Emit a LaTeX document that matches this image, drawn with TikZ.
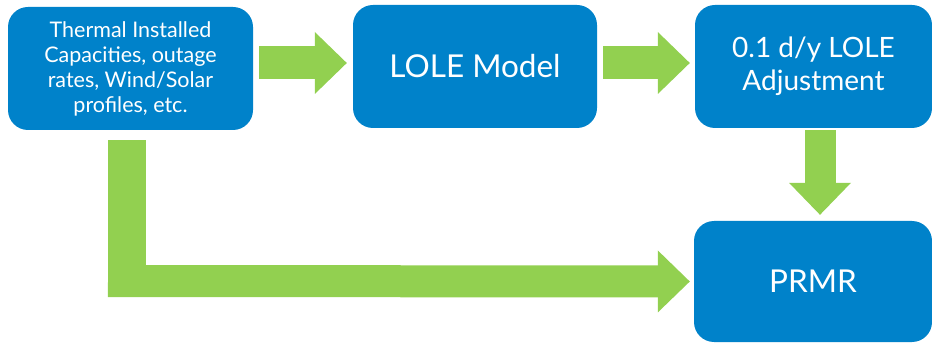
\documentclass[tikz,border=0pt]{standalone}
\usepackage{fontspec}
\setmainfont{Lato}
\usetikzlibrary{arrows.meta}
\definecolor{boxblue}{RGB}{0,130,202}
\definecolor{flowgreen}{RGB}{146,208,80}
\begin{document}
\begin{tikzpicture}[x=1pt,y=1pt,
        box/.style={fill=boxblue,text=white,rounded corners=20pt,align=center,inner sep=0pt,minimum height=123pt},
        flow/.style={draw=flowgreen,line width=32pt,-{Triangle[width=62pt,length=32pt,line width=0pt]}}]
        \useasboundingbox (0,0) rectangle (932,343);
        \node[box,minimum width=245pt,font=\fontsize{21.5}{25}\selectfont] (inputs) at (130.5,274.5) {Thermal Installed\\Capacities, outage\\rates, Wind/Solar\\profiles, etc.};
        \node[box,minimum width=244pt,font=\fontsize{31.5}{37}\selectfont] (model) at (475,276.5) {LOLE Model};
        \node[box,minimum width=237pt,font=\fontsize{28}{33}\selectfont] (adjust) at (813.5,276.5) {0.1 d/y LOLE\\Adjustment};
        \node[box,minimum width=238pt,minimum height=121pt,font=\fontsize{31.5}{37}\selectfont] (prmr) at (813,61.5) {PRMR};
        \draw[flow,line width=33pt,shorten <=6pt,shorten >=6pt] (inputs.east |- 0,280) -- (model.west |- 0,280);
        \draw[flow,line width=33pt,shorten <=6pt,shorten >=5pt] (model.east |- 0,280) -- (adjust.west |- 0,280);
        \draw[flow,line width=31pt,shorten <=2pt,shorten >=6pt] (820,0 |- adjust.south) -- (820,0 |- prmr.north);
        \draw[draw=flowgreen,line width=38pt,shorten <=10pt] (127,0 |- inputs.south) -- (127,46);
        \draw[flow,shorten >=4pt] (108,62) -- (prmr.west);
\end{tikzpicture}
\end{document}
